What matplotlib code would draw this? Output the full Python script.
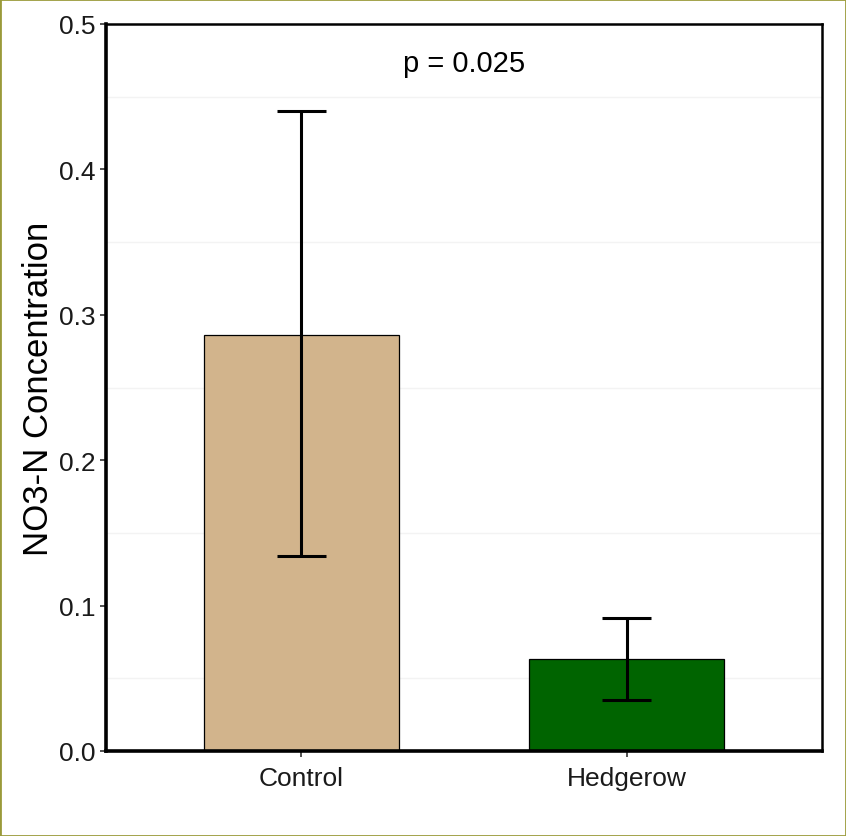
import matplotlib
matplotlib.use("Agg")
import matplotlib.pyplot as plt
import numpy as np

plt.rcParams['font.family'] = ['Liberation Sans', 'DejaVu Sans']

categories = ["Control", "Hedgerow"]
means = [0.286, 0.0635]
err_low = [0.134, 0.035]
err_high = [0.440, 0.0915]
colors = ["#D2B48C", "#006400"]
y_ticks = [0.0, 0.1, 0.2, 0.3, 0.4, 0.5]
y_tick_labels = ["0.0", "0.1", "0.2", "0.3", "0.4", "0.5"]
p_label = "p = 0.025"

W, H = 846, 837
fig = plt.figure(figsize=(W / 100, H / 100), dpi=100)
fig.patch.set_facecolor("white")
ax = fig.add_axes([106 / W, (H - 752) / H, 716 / W, 727 / H])

x = np.arange(1, len(categories) + 1)
ax.bar(x, means, width=0.6, color=colors, edgecolor="black", linewidth=0.9, zorder=2)

cap = 0.075
for xi, lo, hi in zip(x, err_low, err_high):
    ax.plot([xi, xi], [lo, hi], color="black", lw=2.2, zorder=3, solid_capstyle="butt")
    ax.plot([xi - cap, xi + cap], [lo, lo], color="black", lw=2.2, zorder=3, solid_capstyle="butt")
    ax.plot([xi - cap, xi + cap], [hi, hi], color="black", lw=2.2, zorder=3, solid_capstyle="butt")

ax.set_xlim(0.4, 2.6)
ax.set_ylim(0, 0.5)
ax.set_xticks(x)
ax.set_xticklabels(categories, fontsize=19, color="#1a1a1a")
ax.set_yticks(y_ticks)
ax.set_yticklabels(y_tick_labels, fontsize=19, color="#1a1a1a")
ax.set_yticks(np.arange(0.05, 0.5, 0.1), minor=True)
ax.tick_params(axis="y", which="minor", length=0)
ax.tick_params(axis="both", which="major", length=4.5, width=1.2, color="#333333", pad=3)
ax.tick_params(axis="x", which="major", pad=6)
ax.grid(axis="y", which="minor", color="#f3f3f3", lw=1.0, zorder=0)
ax.set_axisbelow(True)

ax.set_ylabel("NO3-N Concentration", fontsize=25, color="black", labelpad=3)

for side in ["left", "bottom"]:
    ax.spines[side].set_linewidth(2.6)
for side in ["top", "right"]:
    ax.spines[side].set_linewidth(1.8)
for s in ax.spines.values():
    s.set_color("black")

ax.text(1.5, 0.473, p_label, fontsize=21, ha="center", va="center", color="black")

# thin olive frame around figure
fig.add_artist(plt.Rectangle((0, 0), 1, 1, transform=fig.transFigure, fill=False,
                             edgecolor="#9a9a3a", linewidth=2.0))

fig.savefig("out.png", dpi=100, facecolor="white")
